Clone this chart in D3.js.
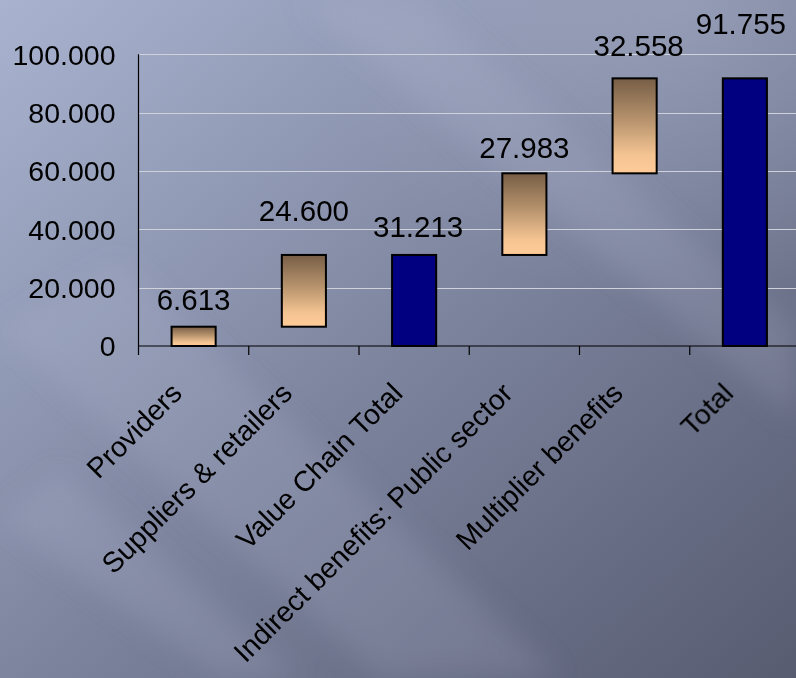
<!DOCTYPE html>
<html>
<head>
<meta charset="utf-8">
<script src="https://cdn.jsdelivr.net/npm/d3@7"></script>
<style>
  html, body { margin: 0; padding: 0; overflow: hidden; }
  svg { display: block; }
  text { font-family: "Liberation Sans", Arial, sans-serif; fill: #000; }
</style>
</head>
<body>
<svg id="chart" width="796" height="678"></svg>
<script>
// Waterfall data
const categories = ["Providers", "Suppliers & retailers", "Value Chain Total",
                    "Indirect benefits: Public sector", "Multiplier benefits", "Total"];
const values = [6.613, 24.600, 31.213, 27.983, 32.558, 91.755];
const kinds = ["step", "step", "total", "step", "step", "total"];
const valueLabels = ["6.613", "24.600", "31.213", "27.983", "32.558", "91.755"];
const yTicks = [0, 20, 40, 60, 80, 100];
const yTickLabels = ["0", "20.000", "40.000", "60.000", "80.000", "100.000"];

const W = 796, H = 678;
const svg = d3.select("#chart");
const defs = svg.append("defs");

// Background: slate gradient with soft diagonal sheen
const bg = defs.append("linearGradient").attr("id", "bg")
  .attr("x1", "0").attr("y1", "0").attr("x2", "1").attr("y2", "1");
[[0, "#a9b3cf"], [0.25, "#949db8"], [0.5, "#7e859f"], [0.78, "#676d84"], [1, "#575c71"]]
  .forEach(([o, c]) => bg.append("stop").attr("offset", o).attr("stop-color", c));
svg.append("rect").attr("width", W).attr("height", H).attr("fill", "url(#bg)");

const topGlow = defs.append("radialGradient").attr("id", "topGlow")
  .attr("cx", "0.85").attr("cy", "0").attr("r", "0.45");
topGlow.append("stop").attr("offset", 0).attr("stop-color", "#b4bcd6").attr("stop-opacity", 0.35);
topGlow.append("stop").attr("offset", 1).attr("stop-color", "#b4bcd6").attr("stop-opacity", 0);
svg.append("rect").attr("width", W).attr("height", H).attr("fill", "url(#topGlow)");

defs.append("filter").attr("id", "soft").append("feGaussianBlur").attr("stdDeviation", 14);
const streaks = [
  [[0, 330], [120, 260], [560, 678], [380, 678]],
  [[0, 520], [60, 470], [300, 678], [220, 678]],
  [[300, 0], [420, 0], [796, 330], [796, 420]]
];
svg.append("g").attr("filter", "url(#soft)")
  .selectAll("polygon").data(streaks).join("polygon")
  .attr("points", d => d.map(p => p.join(",")).join(" "))
  .attr("fill", "#c3cae0").attr("opacity", 0.16);

// Bar fill for incremental steps
const stepGrad = defs.append("linearGradient").attr("id", "stepGrad")
  .attr("x1", "0").attr("y1", "0").attr("x2", "0").attr("y2", "1");
[[0, "#775e46"], [0.45, "#b8946e"], [0.8, "#f3c391"], [1, "#ffcc99"]]
  .forEach(([o, c]) => stepGrad.append("stop").attr("offset", o).attr("stop-color", c));

// Scales
const x = d3.scaleBand().domain(categories).range([138.5, 800]).paddingInner(0).paddingOuter(0);
const y = d3.scaleLinear().domain([0, 100]).range([346, 54.3]);
const barW = x.bandwidth() * 0.4;

// Running base for the waterfall
let run = 0;
const bars = categories.map((c, i) => {
  let lo, hi;
  if (kinds[i] === "total") { lo = 0; hi = values[i]; run = values[i]; }
  else { lo = run; hi = run + values[i]; run = hi; }
  return { cat: c, lo, hi, kind: kinds[i], label: valueLabels[i], i };
});

// Gridlines
svg.append("g").selectAll("line").data(yTicks.filter(t => t > 0)).join("line")
  .attr("x1", 138.5).attr("x2", W)
  .attr("y1", d => Math.round(y(d)) + 0.5).attr("y2", d => Math.round(y(d)) + 0.5)
  .attr("stroke", "#cfd2da").attr("stroke-width", 1);

// Y axis
const yAxis = svg.append("g").attr("transform", "translate(138.5,0)")
  .call(d3.axisLeft(y).tickValues(yTicks).tickFormat((d, i) => yTickLabels[i]).tickSize(0).tickPadding(23));
yAxis.select(".domain").remove();
yAxis.selectAll("text").style("font-size", "28.5px").attr("fill", "#000").attr("dy", "0.35em");
svg.append("line").attr("x1", 138.5).attr("x2", 138.5).attr("y1", y(100)).attr("y2", 355)
  .attr("stroke", "#000").attr("stroke-width", 1.2);

// X axis line and tick marks between categories
svg.append("line").attr("x1", 138.5).attr("x2", W).attr("y1", y(0)).attr("y2", y(0))
  .attr("stroke", "#000").attr("stroke-width", 1.2);
svg.append("g").selectAll("line").data(categories.slice(1)).join("line")
  .attr("x1", d => x(d)).attr("x2", d => x(d))
  .attr("y1", y(0)).attr("y2", y(0) + 9)
  .attr("stroke", "#000").attr("stroke-width", 1.2);

// Bars
svg.append("g").selectAll("rect").data(bars).join("rect")
  .attr("x", d => x(d.cat) + x.bandwidth() / 2 - barW / 2)
  .attr("y", d => y(d.hi))
  .attr("width", barW)
  .attr("height", d => y(d.lo) - y(d.hi))
  .attr("fill", d => d.kind === "total" ? "#000080" : "url(#stepGrad)")
  .attr("stroke", "#000").attr("stroke-width", 2);

// Value labels above each bar
const labelLift = [27, 44, 28, 26, 33, 55];
const labelShift = [0, 0, 4, 0, 4, -4];
svg.append("g").selectAll("text").data(bars).join("text")
  .attr("x", d => x(d.cat) + x.bandwidth() / 2 + labelShift[d.i])
  .attr("y", d => y(d.hi) - labelLift[d.i])
  .attr("dy", "0.35em")
  .attr("text-anchor", "middle")
  .style("font-size", "29.5px")
  .text(d => d.label);

// Rotated category labels
svg.append("g").selectAll("text").data(categories).join("text")
  .attr("transform", d => `translate(${x(d) + x.bandwidth() / 2 - 10},395) rotate(-45)`)
  .attr("text-anchor", "end")
  .style("font-size", "28.5px")
  .text(d => d);
</script>
</body>
</html>
